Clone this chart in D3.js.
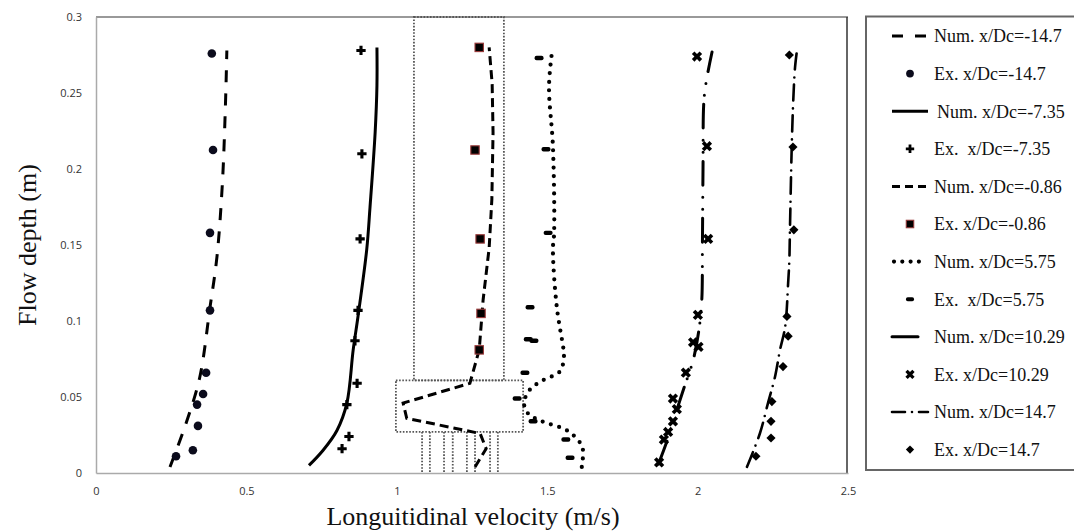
<!DOCTYPE html>
<html>
<head>
<meta charset="utf-8">
<script src="https://cdn.jsdelivr.net/npm/d3@7"></script>
<style>
  body { margin: 0; background: #fff; }
  svg { display: block; }
</style>
</head>
<body>
<svg id="chart" width="1074" height="532"></svg>
<script>
// Axis ticks
const xTicks = [0, 0.5, 1, 1.5, 2, 2.5];
const yTicks = [0, 0.05, 0.1, 0.15, 0.2, 0.25, 0.3];

// Velocity profiles: [longitudinal velocity (m/s), flow depth (m)]
const numM147 = [[0.246,0.004],[0.30,0.033],[0.345,0.063],[0.379,0.109],[0.402,0.142],[0.42,0.19],[0.43,0.24],[0.435,0.278]];
const exM147  = [[0.266,0.011],[0.322,0.015],[0.339,0.031],[0.336,0.045],[0.356,0.052],[0.366,0.066],[0.379,0.107],[0.379,0.158],[0.389,0.2125],[0.385,0.276]];

const numM735 = [[0.708,0.005],[0.755,0.015],[0.801,0.028],[0.834,0.046],[0.855,0.081],[0.871,0.103],[0.90,0.147],[0.911,0.175],[0.928,0.224],[0.934,0.255],[0.934,0.280]];
const exM735  = [[0.818,0.016],[0.841,0.024],[0.834,0.045],[0.868,0.059],[0.861,0.087],[0.871,0.107],[0.878,0.154],[0.884,0.210],[0.881,0.278]];

const numM086 = [[1.26,0.004],[1.297,0.016],[1.277,0.026],[1.033,0.036],[1.021,0.046],[1.243,0.059],[1.274,0.081],[1.287,0.114],[1.307,0.148],[1.316,0.18],[1.320,0.224],[1.317,0.256],[1.307,0.280]];
const exM086  = [[1.274,0.081],[1.28,0.105],[1.277,0.154],[1.26,0.2125],[1.274,0.280]];

const numP575 = [[1.615,0.004],[1.619,0.015],[1.609,0.020],[1.566,0.028],[1.483,0.034],[1.437,0.039],[1.423,0.046],[1.443,0.055],[1.486,0.061],[1.543,0.067],[1.556,0.078],[1.553,0.083],[1.532,0.109],[1.519,0.147],[1.523,0.158],[1.519,0.215],[1.506,0.254],[1.516,0.277]];
const exP575  = [[1.576,0.010],[1.562,0.022],[1.453,0.034],[1.40,0.049],[1.426,0.066],[1.437,0.088],[1.456,0.087],[1.443,0.109],[1.503,0.158],[1.496,0.213],[1.473,0.273]];

const numP1029 = [[1.87,0.006],[1.90,0.022],[1.935,0.044],[1.958,0.058],[1.985,0.074],[2.005,0.095],[2.014,0.114],[2.016,0.15],[2.018,0.2],[2.021,0.245],[2.03,0.259],[2.048,0.277]];
const exP1029  = [[1.872,0.007],[1.888,0.022],[1.902,0.027],[1.918,0.034],[1.931,0.042],[1.918,0.049],[1.961,0.066],[1.985,0.086],[2.003,0.083],[2.001,0.104],[2.035,0.154],[2.031,0.215],[1.998,0.274]];

const numP147 = [[2.164,0.004],[2.207,0.026],[2.234,0.046],[2.257,0.063],[2.274,0.081],[2.291,0.096],[2.301,0.125],[2.305,0.140],[2.307,0.16],[2.313,0.215],[2.318,0.245],[2.324,0.267],[2.331,0.279]];
const exP147  = [[2.194,0.011],[2.244,0.023],[2.244,0.034],[2.247,0.047],[2.284,0.070],[2.301,0.090],[2.297,0.103],[2.32,0.16],[2.317,0.2145],[2.305,0.275]];

// Dotted highlight frames around the bridge-pier region: [x0, x1, y0, y1]
const frameTall = [1.057, 1.356, 0.061, 0.3];
const frameWide = [0.997, 1.42, 0.027, 0.061];
const frameLegs = [1.084, 1.110, 1.157, 1.186, 1.233, 1.260, 1.310, 1.336];

const legendLabels = [
  "Num. x/Dc=-14.7", "Ex. x/Dc=-14.7",
  "Num. x/Dc=-7.35", "Ex.  x/Dc=-7.35",
  "Num. x/Dc=-0.86", "Ex. x/Dc=-0.86",
  "Num. x/Dc=5.75",  "Ex.  x/Dc=5.75",
  "Num. x/Dc=10.29", "Ex. x/Dc=10.29",
  "Num. x/Dc=14.7",  "Ex. x/Dc=14.7"
];

const svg = d3.select("#chart");
const x = d3.scaleLinear().domain([0, 2.5]).range([96, 848]);
const y = d3.scaleLinear().domain([0, 0.3]).range([473, 17]);
const serif = "'Liberation Serif', 'Times New Roman', serif";

// Line styles for the numerical profiles
const lineStyles = {
  m147:  { dash: "12,11", width: 3, cap: "butt" },
  m735:  { dash: null, width: 3, cap: "butt" },
  m086:  { dash: "9,5", width: 3, cap: "butt" },
  p575:  { dash: "0,8.6", width: 4.2, cap: "round" },
  p1029: { dash: "24,9,0,12,0,12", width: 3, cap: "round" },
  p147:  { dash: "16,7,0,8", width: 2.6, cap: "round" }
};

// Plot frame
svg.append("line").attr("x1", 96).attr("x2", 848).attr("y1", 17).attr("y2", 17)
  .attr("stroke", "#777").attr("stroke-width", 1.5);
svg.append("line").attr("x1", 847).attr("x2", 847).attr("y1", 17).attr("y2", 473)
  .attr("stroke", "#333").attr("stroke-width", 1.5);

// Axes
const xAxis = svg.append("g").attr("transform", "translate(0,473)")
  .call(d3.axisBottom(x).tickValues(xTicks).tickSize(0).tickPadding(14).tickFormat(d3.format("~g")));
const yAxis = svg.append("g").attr("transform", "translate(96,0)")
  .call(d3.axisLeft(y).tickValues(yTicks).tickSize(0).tickPadding(14).tickFormat(d3.format("~g")));
[xAxis, yAxis].forEach(a => {
  a.select(".domain").attr("stroke", "#aaa").attr("stroke-width", 1.5);
  a.selectAll("text").attr("font-family", "'Open Sans', 'Liberation Sans', sans-serif")
    .attr("font-size", 11).attr("fill", "#333");
});

// Axis titles
svg.append("text").attr("x", 473).attr("y", 525).attr("text-anchor", "middle")
  .attr("font-family", serif).attr("font-size", 26)
  .attr("fill", "#111").text("Longuitidinal velocity (m/s)");
svg.append("text").attr("transform", "translate(36,245) rotate(-90)").attr("text-anchor", "middle")
  .attr("font-family", serif).attr("font-size", 26)
  .attr("fill", "#111").text("Flow depth (m)");

// Dotted frames
const frameG = svg.append("g").attr("fill", "none").attr("stroke", "#555")
  .attr("stroke-width", 1.8).attr("stroke-dasharray", "1.6,1.6");
[frameTall, frameWide].forEach(f => {
  frameG.append("rect").attr("x", x(f[0])).attr("y", y(f[3]))
    .attr("width", x(f[1]) - x(f[0])).attr("height", y(f[2]) - y(f[3]));
});
frameLegs.forEach(v => {
  frameG.append("line").attr("x1", x(v)).attr("x2", x(v))
    .attr("y1", y(frameWide[2])).attr("y2", y(0));
});

// Numerical profiles
const line = d3.line().x(d => x(d[0])).y(d => y(d[1]));
const smooth = d3.line().x(d => x(d[0])).y(d => y(d[1])).curve(d3.curveCatmullRom.alpha(0.5));
const numSeries = [
  [numM147, "m147", smooth], [numM735, "m735", smooth], [numM086, "m086", line],
  [numP575, "p575", smooth], [numP1029, "p1029", smooth], [numP147, "p147", smooth]
];
numSeries.forEach(([data, key, gen]) => {
  const s = lineStyles[key];
  svg.append("path").datum(data).attr("d", gen).attr("fill", "none")
    .attr("stroke", "#000").attr("stroke-width", s.width)
    .attr("stroke-linecap", s.cap).attr("stroke-dasharray", s.dash);
});

// Marker drawing
function marker(g, kind) {
  switch (kind) {
    case "circle":
      return g.append("circle").attr("r", 4.3).attr("fill", "#0b0b1c");
    case "plus":
      return g.append("path").attr("d", d3.symbol(d3.symbolCross, 48)()).attr("fill", "#000");
    case "square":
      return g.append("rect").attr("x", -4.2).attr("y", -4.2).attr("width", 8.4).attr("height", 8.4)
        .attr("fill", "#000").attr("stroke", "#9a3a3a").attr("stroke-width", 1.1);
    case "dash":
      return g.append("rect").attr("x", -4.5).attr("y", -2.2).attr("width", 9).attr("height", 4.4)
        .attr("rx", 2).attr("fill", "#000");
    case "x":
      return g.append("path").attr("d", d3.symbol(d3.symbolCross, 66)()).attr("transform", "rotate(45)").attr("fill", "#000");
    case "diamond":
      return g.append("path").attr("d", d3.symbol(d3.symbolSquare, 42)()).attr("transform", "rotate(45)").attr("fill", "#000");
  }
}

const exSeries = [[exM147, "circle"], [exM735, "plus"], [exM086, "square"], [exP575, "dash"], [exP1029, "x"], [exP147, "diamond"]];
exSeries.forEach(([data, kind]) => {
  svg.append("g").selectAll("g").data(data).join("g")
    .attr("transform", d => `translate(${x(d[0])},${y(d[1])})`)
    .each(function () { marker(d3.select(this), kind); });
});

// Legend
const legend = svg.append("g");
legend.append("rect").attr("x", 866).attr("y", 16.5).attr("width", 230).attr("height", 453.5)
  .attr("fill", "#fff").attr("stroke", "#666").attr("stroke-width", 2);
const legendKinds = ["m147", "circle", "m735", "plus", "m086", "square", "p575", "dash", "p1029", "x", "p147", "diamond"];
const legendLineSpan = { m147: [892, 928], m735: [892, 928], m086: [892, 928], p575: [894, 927], p1029: [892, 918], p147: [892, 928] };
const legendDash = { m147: "11,12", m086: "8,5", p575: "0,8.3", p1029: null, p147: "13,7,0,7" };
legendLabels.forEach((lab, i) => {
  const cy = 36 + i * 37.6;
  const kind = legendKinds[i];
  if (lineStyles[kind]) {
    const s = lineStyles[kind];
    const span = legendLineSpan[kind];
    legend.append("line").attr("x1", span[0]).attr("x2", span[1]).attr("y1", cy).attr("y2", cy)
      .attr("stroke", "#000").attr("stroke-width", s.width)
      .attr("stroke-linecap", s.cap).attr("stroke-dasharray", legendDash[kind] || null);
  } else {
    const g = legend.append("g").attr("transform", `translate(910,${cy})`);
    marker(g, kind).attr("transform", (kind === "x" || kind === "diamond") ? "rotate(45) scale(0.9)" : "scale(0.9)");
  }
  legend.append("text").attr("x", lab.startsWith("Num. x/Dc=-7") ? 937 : 934).attr("y", cy)
    .attr("dy", "0.35em").attr("font-family", serif)
    .attr("font-size", 18).attr("fill", "#111").style("white-space", "pre").text(lab);
});
</script>
</body>
</html>
